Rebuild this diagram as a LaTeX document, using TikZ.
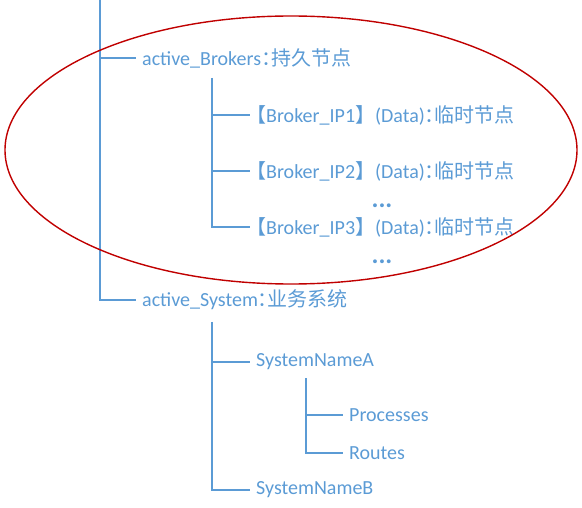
\documentclass[tikz,border=0pt]{standalone}
\usepackage{fontspec}
\setmainfont{Carlito}
\newfontfamily\cjk{Noto Sans CJK SC}
\newfontfamily\cjkhalf[RawFeature=+halt]{Noto Sans CJK SC}
\usetikzlibrary{positioning}
\definecolor{treeblue}{HTML}{5B9BD5}
\definecolor{ringred}{HTML}{C00000}

\begin{document}
\begin{tikzpicture}[x=1pt, y=-1pt,
    font=\fontsize{20}{22}\selectfont,
    leaf/.style={anchor=west, text=treeblue, inner xsep=6pt, inner ysep=0pt},
    more/.style={text=treeblue, font=\fontsize{26}{26}\selectfont\bfseries, inner sep=0pt},
    twig/.style={treeblue, line width=1.8pt},
    ring/.style={ringred, line width=1.4pt}
  ]
  \useasboundingbox (0,0) rectangle (582,508);

  % tree nodes
  \node[leaf] (brokers) at (136,58)  {active\_Brokers{\cjkhalf ：}{\cjk 持久节点}};
  \node[leaf] (ip1)     at (250,115) {{\cjkhalf 【}Broker\_IP1{\cjk 】}(Data){\cjkhalf ：}{\cjk 临时节点}};
  \node[leaf] (ip2)     at (250,171) {{\cjkhalf 【}Broker\_IP2{\cjk 】}(Data){\cjkhalf ：}{\cjk 临时节点}};
  \node[leaf] (ip3)     at (250,227) {{\cjkhalf 【}Broker\_IP3{\cjk 】}(Data){\cjkhalf ：}{\cjk 临时节点}};
  \node[more] (more1)   at (382,206) {...};
  \node[more] (more2)   at (382,262) {...};

  \node[leaf] (system)  at (136,300) {active\_System{\cjkhalf ：}{\cjk 业务系统}};
  \node[leaf] (nameA)   at (250,362) {SystemNameA};
  \node[leaf] (proc)    at (343,415) {Processes};
  \node[leaf] (routes)  at (343,453) {Routes};
  \node[leaf] (nameB)   at (250,490) {SystemNameB};

  \coordinate (root) at (100,0);
  \coordinate (btop) at (212,78);
  \coordinate (stop) at (212,322);
  \coordinate (atop) at (306,378);

  % connectors
  \draw[twig] (root) |- (system.west);
  \draw[twig] (root |- brokers.west) -- (brokers.west);
  \draw[twig] (btop) |- (ip3.west);
  \draw[twig] (btop |- ip1.west) -- (ip1.west);
  \draw[twig] (btop |- ip2.west) -- (ip2.west);
  \draw[twig] (stop) |- (nameB.west);
  \draw[twig] (stop |- nameA.west) -- (nameA.west);
  \draw[twig] (atop) |- (routes.west);
  \draw[twig] (atop |- proc.west) -- (proc.west);

  % highlight round the brokers
  \draw[ring] (291,150) ellipse [x radius=286pt, y radius=134pt];
\end{tikzpicture}
\end{document}
